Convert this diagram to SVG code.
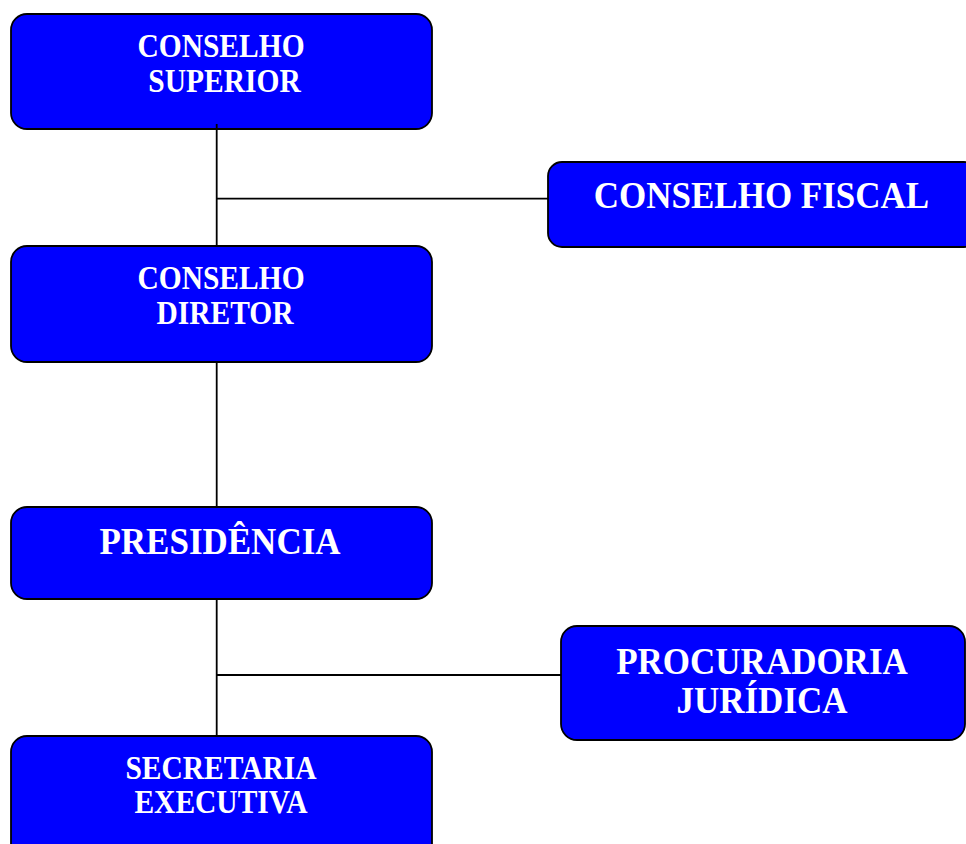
<svg xmlns="http://www.w3.org/2000/svg" width="966" height="844" viewBox="0 0 966 844">
<style>
.box{fill:#0000FF;stroke:#000;stroke-width:1.8}
.t{font-family:"Liberation Serif","Times New Roman",serif;font-weight:bold;fill:#fff;text-anchor:middle}
.s{font-size:29.5px}
.l{font-size:35px}
.c{stroke:#000;stroke-width:1.8;fill:none}
</style>
<rect width="966" height="844" fill="#fff"/>
<g id="conselho-superior">
<rect class="box" x="11" y="14" width="421" height="115" rx="16"/>
<text class="t s" transform="translate(221 57) scale(1 1.11)">CONSELHO</text>
<text class="t s" transform="translate(224.5 91.5) scale(1 1.11)">SUPERIOR</text>
</g>
<g id="conselho-fiscal">
<rect class="box" x="548" y="162" width="430" height="85" rx="14"/>
<text class="t l" transform="translate(761.5 208.3) scale(1 1.09)">CONSELHO FISCAL</text>
</g>
<g id="conselho-diretor">
<rect class="box" x="11" y="246" width="421" height="116" rx="16"/>
<text class="t s" transform="translate(221 289) scale(1 1.11)">CONSELHO</text>
<text class="t s" transform="translate(225 323.5) scale(1 1.11)">DIRETOR</text>
</g>
<g id="presidencia">
<rect class="box" x="11" y="507" width="421" height="92" rx="16"/>
<text class="t l" transform="translate(220 553.5) scale(1 1.09)">PRESIDÊNCIA</text>
</g>
<g id="procuradoria-juridica">
<rect class="box" x="561" y="626" width="404" height="114" rx="16"/>
<text class="t l" transform="translate(762 673.5) scale(1 1.09)">PROCURADORIA</text>
<text class="t l" transform="translate(762 713) scale(1 1.09)">JURÍDICA</text>
</g>
<g id="secretaria-executiva">
<rect class="box" x="11" y="736" width="421" height="130" rx="16"/>
<text class="t s" transform="translate(221 778.5) scale(1 1.11)">SECRETARIA</text>
<text class="t s" transform="translate(221 813) scale(1 1.11)">EXECUTIVA</text>
</g>
<g id="connectors">
<path class="c" d="M216.7 124V246M216.7 198.7H548"/>
<path class="c" d="M216.7 362V507"/>
<path class="c" d="M216.7 599V736M216.7 675H561"/>
</g>
</svg>
